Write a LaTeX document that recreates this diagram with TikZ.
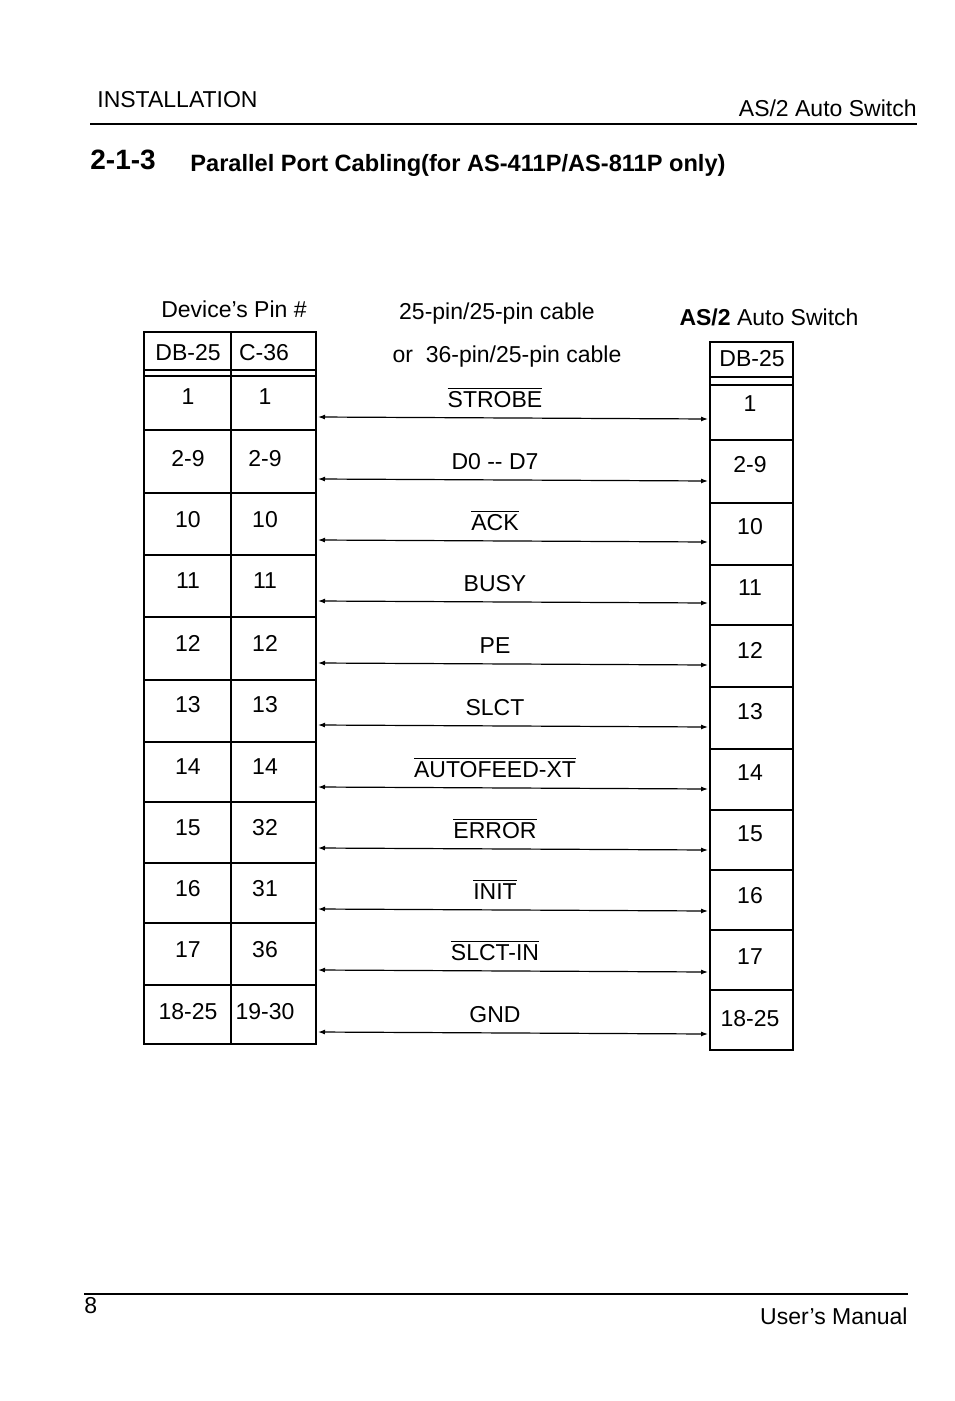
\documentclass[tikz,border=0pt]{standalone}
\usepackage{fontspec}
\setmainfont{Liberation Sans}
\usetikzlibrary{arrows.meta}
\newcommand{\ovl}[1]{$\overline{\mbox{#1}}$}
\begin{document}
\begin{tikzpicture}[
                        x=0.5pt, y=-0.5pt,
                        >={Latex[length=3.5pt,width=2.5pt]},
                        txt/.style={inner sep=0pt, font=\fontsize{11.5}{14}\selectfont},
                        cell/.style={txt},
                        box/.style={line width=0.7pt}
                    ]
                    \useasboundingbox (0,0) rectangle (954,1401);
                    % Page header and footer
                    \node [txt, anchor=west] (sect) at (97,100) {INSTALLATION};
                    \node [txt, anchor=east] (prod) at (917,108) {AS/2 Auto Switch};
                    \draw [line width=0.6pt] (90,124) -- (917,124);
                    \node [txt, anchor=west, font=\fontsize{14}{16}\selectfont\bfseries] (num) at (90,160) {2-1-3};
                    \node [txt, anchor=west, font=\fontsize{11.8}{14}\selectfont\bfseries] (title) at (190,165) {Parallel Port Cabling(for AS-411P/AS-811P only)};
                    \draw [line width=0.6pt] (84,1294) -- (908,1294);
                    \node [txt, anchor=west] (page) at (84,1306) {8};
                    \node [txt, anchor=east] (manual) at (908,1316) {User’s Manual};

                    % Column headings
                    \node [txt] (devhead) at (234,309) {Device’s Pin \#};
                    \node [txt] (cab1) at (497,314) {25-pin/25-pin cable};
                    \node [txt] (cab2) at (507,357) {or\ \ 36-pin/25-pin cable};
                    \node [txt] (swhead) at (769,317) {\textbf{AS/2} Auto Switch};

                    % Left table
                    \draw [box] (144,332) rectangle (316,1044);
                    \draw [box] (231,332) -- (231,1044);
                    \draw [box] (144,370) -- (316,370);
                    \draw [box] (144,376) -- (316,376);
                    \foreach \y in {430,493,555,617,680,742,802,863,923,985}
                        \draw [box] (144,\y) -- (316,\y);
                    \node [cell] (dbh) at (188,353) {DB-25};
                    \node [cell] (ch) at (264,353) {C-36};

                    % Right table
                    \draw [box] (710,342) rectangle (793,1050);
                    \draw [box] (710,377) -- (793,377);
                    \draw [box] (710,385) -- (793,385);
                    \foreach \y in {440,503,565,625,687,749,810,870,930,990}
                        \draw [box] (710,\y) -- (793,\y);
                    \node [cell] (swh) at (752,359) {DB-25};

                    % Pins and signals
                    \foreach \i/\a/\b/\ly/\ry/\sig in {
                        1/1/1/397/404/\ovl{STROBE},
                        2/2-9/2-9/459/465/D0 -{}- D7,
                        3/10/10/520/527/\ovl{ACK},
                        4/11/11/581/588/BUSY,
                        5/12/12/643/650/PE,
                        6/13/13/705/712/SLCT,
                        7/14/14/767/773/\ovl{AUTOFEED-XT},
                        8/15/32/828/834/\ovl{ERROR},
                        9/16/31/889/896/\ovl{INIT},
                        10/17/36/950/957/\ovl{SLCT-IN},
                        11/18-25/19-30/1012/1019/GND}
                    {
                        \node [cell] (da\i) at (188,\ly) {\a};
                        \node [cell] (dc\i) at (265,\ly) {\b};
                        \node [cell] (sw\i) at (750,\ry) {\a};
                        \coordinate (l\i) at (318,\ly+20);
                        \coordinate (r\i) at (708,\ly+22);
                        \draw [<->, line width=0.6pt] (l\i) -- (r\i);
                        \node [txt, anchor=base] (sig\i) at (495,\ly+10) {\sig};
                    }
                \end{tikzpicture}
\end{document}
